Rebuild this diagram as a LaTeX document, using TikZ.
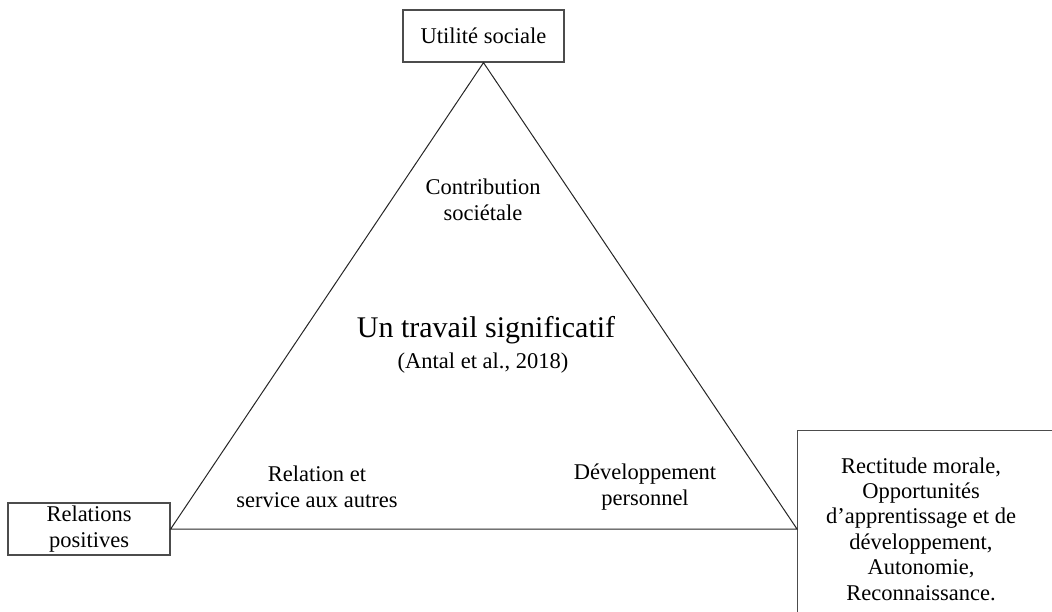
\documentclass[tikz,border=0pt]{standalone}
\usepackage{fontspec}
\setmainfont{Liberation Serif}
\begin{document}
\begin{tikzpicture}[x=1pt,y=-1pt,
  box/.style={draw=black!70, line width=1.3pt, inner sep=0pt, align=center, font=\fontsize{22.5}{25.4}\selectfont},
  lbl/.style={align=center, inner sep=0pt, font=\fontsize{22.5}{25.4}\selectfont},
  big/.style={align=center, inner sep=0pt, font=\fontsize{30}{34}\selectfont},
  side/.style={line width=1pt, black!85}]
\useasboundingbox (0,0) rectangle (1052,612);
\clip (0,0) rectangle (1052,612);
\node[box, minimum width=161pt, minimum height=52pt] (util) at (483.5,36) {Utilité sociale};
\node[box, minimum width=162pt, minimum height=52pt] (rel) at (89,529) {Relations\\positives};
\node[box, minimum width=300pt, minimum height=250pt, anchor=north west] (rbox) at (797,430) {};
\coordinate (rv) at (rbox.north west |- rel.east);
\node[lbl] (rtext) at (921,529) {Rectitude morale,\\Opportunités\\d’apprentissage et de\\développement,\\Autonomie,\\Reconnaissance.};
\draw[side] (rel.east) -- (util.south) -- (rv) -- cycle;
\node[lbl] (contrib) at (483,200) {Contribution\\sociétale};
\node[big] (titre) at (486,330) {Un travail significatif};
\node[lbl] (antal) at (483,363) {(Antal et al., 2018)};
\node[lbl] (relserv) at (317,487) {Relation et\\service aux autres};
\node[lbl] (devperso) at (645,487) {Développement\\personnel};
\end{tikzpicture}
\end{document}
